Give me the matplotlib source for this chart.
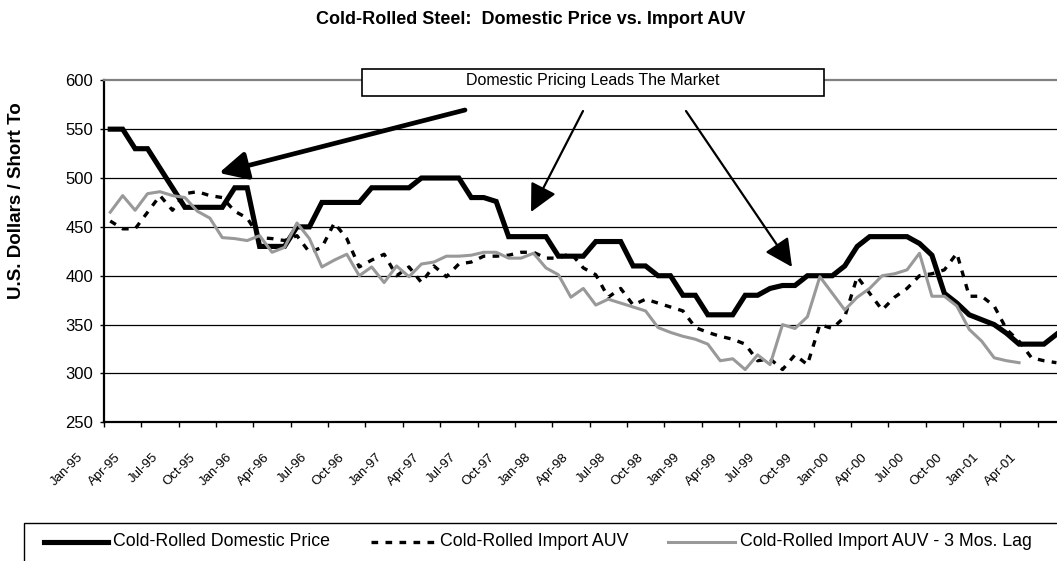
import matplotlib
matplotlib.use('Agg')
import matplotlib.pyplot as plt
from matplotlib.lines import Line2D
from matplotlib.patches import Rectangle
from matplotlib.transforms import Bbox, ScaledTranslation
import numpy as np

plt.rcParams['font.family'] = ['Liberation Sans', 'DejaVu Sans']

W, H, DPI = 1057, 561, 100

# ---------------- data ----------------
tick_labels = ['Jan-95', 'Apr-95', 'Jul-95', 'Oct-95', 'Jan-96', 'Apr-96', 'Jul-96', 'Oct-96',
               'Jan-97', 'Apr-97', 'Jul-97', 'Oct-97', 'Jan-98', 'Apr-98', 'Jul-98', 'Oct-98',
               'Jan-99', 'Apr-99', 'Jul-99', 'Oct-99', 'Jan-00', 'Apr-00', 'Jul-00', 'Oct-00',
               'Jan-01', 'Apr-01']

domestic_price = [550, 550, 530, 530, 510, 490, 470, 470, 470, 470,
                  490, 490, 430, 430, 430, 450, 450, 475, 475, 475,
                  475, 490, 490, 490, 490, 500, 500, 500, 500, 480,
                  480, 476, 440, 440, 440, 440, 420, 420, 420, 435,
                  435, 435, 410, 410, 400, 400, 380, 380, 360, 360,
                  360, 380, 380, 387, 390, 390, 400, 400, 400, 410,
                  430, 440, 440, 440, 440, 433, 421, 382, 372, 360,
                  355, 350, 341, 330, 330, 330, 340]

import_auv = [456, 448, 448, 465, 482, 467, 484, 486, 482, 480,
              466, 459, 439, 438, 436, 441, 424, 429, 454, 438,
              409, 416, 422, 400, 409, 393, 410, 399, 412, 414,
              420, 420, 421, 424, 424, 418, 418, 423, 408, 401,
              378, 387, 370, 376, 372, 368, 364, 347, 342, 338,
              335, 330, 313, 315, 304, 319, 309, 350, 346, 358,
              399, 382, 365, 378, 387, 400, 402, 406, 423, 379,
              379, 369, 345, 333, 316, 313, 311]

import_auv_lag = [465, 482, 467, 484, 486, 482, 480, 466, 459, 439,
                  438, 436, 441, 424, 429, 454, 438, 409, 416, 422,
                  400, 409, 393, 410, 399, 412, 414, 420, 420, 421,
                  424, 424, 418, 418, 423, 408, 401, 378, 387, 370,
                  376, 372, 368, 364, 347, 342, 338, 335, 330, 313,
                  315, 304, 319, 309, 350, 346, 358, 399, 382, 365,
                  378, 387, 400, 402, 406, 423, 379, 379, 369, 345,
                  333, 316, 313, 311]

series_names = ['Cold-Rolled Domestic Price', 'Cold-Rolled Import AUV',
                'Cold-Rolled Import AUV - 3 Mos. Lag']

# ---------------- figure ----------------
fig = plt.figure(figsize=(W / DPI, H / DPI), dpi=DPI)
fig.patch.set_facecolor('white')

def fx(px):
    return px / W

def fy(py):
    return 1 - py / H

ax_l, ax_t, ax_b = 104, 80.3, 422.3
month_px = 12.45
ax = fig.add_axes([fx(ax_l), fy(ax_b), 1 - fx(ax_l), fy(ax_t) - fy(ax_b)])
ax.set_xlim(-0.5, (W - ax_l) / month_px - 0.5)
ax.set_ylim(250, 600)

GRAY = '#999999'
DOM_STYLE = dict(color='black', lw=3.7, solid_joinstyle='miter')
AUV_STYLE = dict(color='black', lw=2.4, linestyle=(0, (2.0, 2.2)), dash_capstyle='butt')
LAG_STYLE = dict(color=GRAY, lw=2.2)

x_dom = np.arange(len(domestic_price))
x_auv = np.arange(len(import_auv))
x_lag = np.arange(len(import_auv_lag))
ax.plot(x_dom, domestic_price, zorder=3, **DOM_STYLE)
ax.plot(x_auv, import_auv, zorder=4, **AUV_STYLE)
ax.plot(x_lag, import_auv_lag, zorder=5, **LAG_STYLE)

# gridlines
for v in range(300, 600, 50):
    ax.axhline(v, color='black', lw=0.9, zorder=1)

# spines
ax.spines['right'].set_visible(False)
ax.spines['top'].set_color('#808080')
ax.spines['top'].set_linewidth(1.6)
ax.spines['left'].set_linewidth(1.6)
ax.spines['bottom'].set_linewidth(1.6)

ax.set_yticks(range(250, 601, 50))
ax.tick_params(axis='y', length=3, width=1, labelsize=12, pad=5)

tick_pos = np.arange(len(tick_labels)) * 3 - 0.5
ax.set_xticks(tick_pos)
ax.set_xticklabels(tick_labels, rotation=45, ha='right', va='top',
                   rotation_mode='anchor', fontsize=9.5)
ax.tick_params(axis='x', length=3.6, width=1, pad=0)
off = ScaledTranslation(-27 / DPI, -24 / DPI, fig.dpi_scale_trans)
for lab in ax.get_xticklabels():
    lab.set_transform(lab.get_transform() + off)

# title
fig.text(fx(531), fy(19), 'Cold-Rolled Steel:  Domestic Price vs. Import AUV',
         ha='center', va='center', fontsize=13, fontweight='bold')

# y label (clipped at top as in the original)
yl = fig.text(fx(17), fy(299), 'U.S. Dollars / Short Ton', rotation=90,
              ha='center', va='bottom', fontsize=13.5, fontweight='bold')
yl.set_clip_box(Bbox.from_extents(0, 0, W, H - 104))
yl.set_clip_on(True)

# annotation box
fig.add_artist(Rectangle((fx(362), fy(96)), fx(824) - fx(362), fy(69) - fy(96),
                         transform=fig.transFigure, facecolor='white',
                         edgecolor='black', lw=1.2, zorder=5))
fig.text(fx(593), fy(81), 'Domestic Pricing Leads The Market', ha='center',
         va='center', fontsize=11.5, zorder=6)

def to_data(px, py):
    return ((px - ax_l) / month_px - 0.5, 600 - (py - ax_t) / ((ax_b - ax_t) / 350))

arrows = [((465, 110), (219, 173), 3.4),
          ((583, 111), (531, 212), 1.6),
          ((686, 111), (792, 267), 1.6)]
for (s, e, lw) in arrows:
    ax.annotate('', xy=to_data(*e), xytext=to_data(*s),
                arrowprops=dict(arrowstyle='-|>,head_length=1.7,head_width=0.85',
                                mutation_scale=10, lw=lw, color='black',
                                shrinkA=0, shrinkB=0),
                annotation_clip=False, zorder=6)

# legend (drawn as a frame with sample lines)
fig.add_artist(Rectangle((fx(24), fy(H + 5)), fx(W + 5) - fx(24), fy(523) - fy(H + 5),
                         transform=fig.transFigure, facecolor='white',
                         edgecolor='black', lw=1.0, zorder=5))
ly = fy(541.5)
handles = [((44, 108), DOM_STYLE, 113), ((371, 438), AUV_STYLE, 440), ((668, 735), LAG_STYLE, 740)]
for (x0, x1), st, tx in handles:
    fig.add_artist(Line2D([fx(x0), fx(x1)], [ly, ly], transform=fig.transFigure, zorder=6, **st))
for (h, name) in zip(handles, series_names):
    fig.text(fx(h[2]), ly, name, ha='left', va='center', fontsize=12.8, zorder=6)

fig.savefig('out.png', dpi=DPI, facecolor='white')
